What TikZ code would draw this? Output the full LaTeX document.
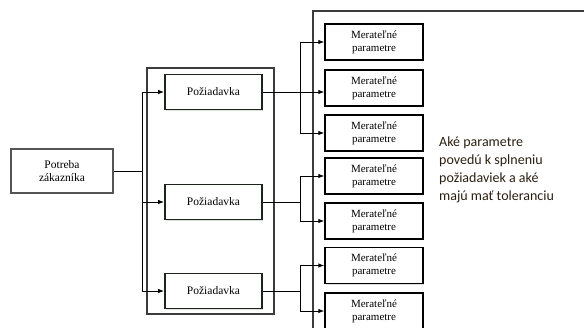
\documentclass[tikz,border=0pt]{standalone}
\usepackage{fontspec}
\setmainfont{Liberation Serif}
\newfontfamily\calfont{Carlito}
\usetikzlibrary{arrows.meta,shadows}
\definecolor{boxgray}{HTML}{555555}
\definecolor{framegray}{HTML}{3C3C3C}
\definecolor{reqborder}{HTML}{1A261A}
\definecolor{qtext}{HTML}{2A1E10}
\tikzset{
  potbox/.style={draw=boxgray, line width=2.4pt, minimum width=102pt, minimum height=44pt, align=center, inner sep=0pt, font=\fontsize{11.5}{13}\selectfont},
  reqbox/.style={draw=reqborder, line width=1.8pt, fill=white, minimum width=97pt, minimum height=35pt, align=center, inner sep=0pt, font=\fontsize{11.5}{13}\selectfont, drop shadow={shadow xshift=1pt, shadow yshift=-1pt, fill=gray!50}},
  parbox/.style={draw=black, line width=1.4pt, fill=white, minimum width=98pt, minimum height=36pt, align=center, inner sep=0pt, font=\fontsize{11}{13}\selectfont, drop shadow={shadow xshift=1pt, shadow yshift=-1pt, fill=gray!50}},
  frame/.style={draw=framegray, line width=1.4pt},
  conn/.style={draw=black, line width=0.9pt},
  arr/.style={conn, -{Latex[length=6pt, width=4.5pt]}},
}
\begin{document}
\begin{tikzpicture}[x=1pt, y=-1pt]
\useasboundingbox (0,0) rectangle (584,327);
% frames
\draw[frame] (147,68) rectangle (274,314);
\draw[frame] (584,11) -- (313,11) -- (313,328);
% nodes
\node[potbox] (pot) at (62,171) {Potreba\\z\'akazn\'ika};
\node[reqbox] (p1) at (213.5,92) {Po\v{z}iadavka};
\node[reqbox] (p2) at (213.5,202) {Po\v{z}iadavka};
\node[reqbox] (p3) at (213.5,291) {Po\v{z}iadavka};
\node[parbox] (m1) at (374,42) {Merate\v{l}n\'e\\parametre};
\node[parbox] (m2) at (374,88) {Merate\v{l}n\'e\\parametre};
\node[parbox] (m3) at (374,133) {Merate\v{l}n\'e\\parametre};
\node[parbox] (m4) at (374,176) {Merate\v{l}n\'e\\parametre};
\node[parbox] (m5) at (374,221) {Merate\v{l}n\'e\\parametre};
\node[parbox] (m6) at (374,265.5) {Merate\v{l}n\'e\\parametre};
\node[parbox] (m7) at (374,311) {Merate\v{l}n\'e\\parametre};
\node[anchor=north west, align=left, text=qtext, inner sep=0pt, font=\calfont\fontsize{14}{17.8}\selectfont] (q) at (439,137) {Ak\'e parametre\\poved\'u k splneniu\\po\v{z}iadaviek a ak\'e\\maj\'u ma\v{t} toleranciu};
% junction columns
\coordinate (lj) at (142,0);
\coordinate (rj) at (300,0);
% left connectors
\draw[conn] (pot.east) -- (pot.east -| lj);
\draw[arr] (pot.east -| lj) |- (p1.west);
\draw[arr] (pot.east -| lj) |- (p2.west);
\draw[arr] (pot.east -| lj) |- (p3.west);
% right connectors
\draw[arr] (p1.east) -- (p1.east -| m2.west);
\draw[arr] (p1.east -| rj) |- (m1.west);
\draw[arr] (p1.east -| rj) |- (m3.west);
\draw[conn] (p2.east) -- (p2.east -| rj);
\draw[arr] (p2.east -| rj) |- (m4.west);
\draw[arr] (p2.east -| rj) |- (m5.west);
\draw[conn] (p3.east) -- (p3.east -| rj);
\draw[arr] (p3.east -| rj) |- (m6.west);
\draw[arr] (p3.east -| rj) |- (m7.west);
\end{tikzpicture}
\end{document}
